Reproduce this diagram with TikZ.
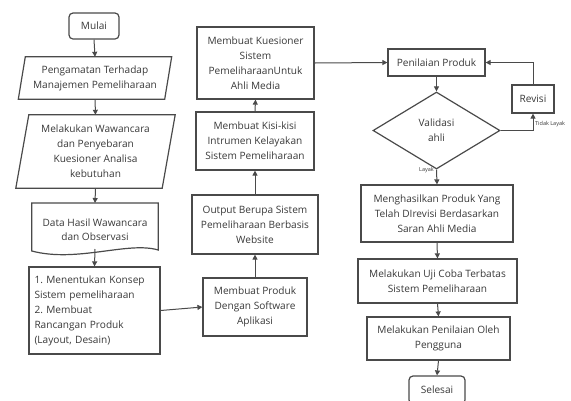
\documentclass[tikz,border=0pt]{standalone}
\usepackage{fontspec}
\setmainfont{Open Sans}
\usetikzlibrary{shapes.geometric,arrows.meta,calc}
\definecolor{ln}{HTML}{4A4A4A}
\definecolor{tx}{HTML}{383838}
\frenchspacing
\begin{document}
\begin{tikzpicture}[x=1pt,y=-1pt,
  every node/.style={font=\fontsize{10.1}{15}\selectfont,text=tx,align=center,inner sep=0pt},
  box/.style={draw=ln,line width=1.2pt,minimum width=#1},
  ghost/.style={draw=none,minimum width=#1},
  lbl/.style={font=\fontsize{5.5}{6}\selectfont,text=tx},
  arr/.style={draw=ln,line width=1pt,-{Triangle[length=5pt,width=5pt]}},
  shp/.style={draw=ln,line width=1.2pt}]
\useasboundingbox (0,0) rectangle (571,400);
% left column
\node[box=50pt,minimum height=26pt,rounded corners=4pt] (mulai) at (94,26) {Mulai};
\node[ghost=146pt,minimum height=42pt] (p1) at (95,78) {Pengamatan Terhadap\\Manajemen Pemeliharaan};
\draw[shp] ($(p1.south west)+(-3.5,0)$) -- ($(p1.south east)+(-3.5,0)$) -- ($(p1.north east)+(3.5,0)$) -- ($(p1.north west)+(3.5,0)$) -- cycle;
\node[ghost=146pt,minimum height=73pt] (p2) at (95.5,151.5) {Melakukan Wawancara\\dan Penyebaran\\Kuesioner Analisa\\kebutuhan};
\draw[shp] ($(p2.south west)+(-6.5,0)$) -- ($(p2.south east)+(-6.5,0)$) -- ($(p2.north east)+(6.5,0)$) -- ($(p2.north west)+(6.5,0)$) -- cycle;
\node[ghost=126pt,minimum height=48pt,text depth=0pt,anchor=north] (doc) at (95,203) {\raisebox{6pt}{\begin{tabular}{@{}c@{}}Data Hasil Wawancara\\[-1pt]dan Observasi\end{tabular}}};
\draw[shp] (doc.north west) -- (doc.north east) -- ($(doc.north east)+(0,47)$) .. controls ($(doc.north east)+(-30,38)$) and ($(doc.north west)+(45,60)$) .. ($(doc.north west)+(0,48)$) -- cycle;
\node[box=131pt,minimum height=87pt,align=left,text width=120pt] (b1) at (94.5,310.5) {1. Menentukan Konsep\\Sistem pemeliharaan\\2. Membuat\\Rancangan Produk\\(Layout, Desain)};
% middle column
\node[box=104pt,minimum height=58pt] (prod) at (255,307) {Membuat Produk\\Dengan Software\\Aplikasi};
\node[box=126pt,minimum height=59pt] (out) at (255,224.5) {Output Berupa Sistem\\Pemeliharaan Berbasis\\Website};
\node[box=118pt,minimum height=58pt] (kisi) at (255,141) {Membuat Kisi-kisi\\Intrumen Kelayakan\\Sistem Pemeliharaan};
\node[box=117pt,minimum height=72pt] (kues) at (255.5,63) {Membuat Kuesioner\\Sistem\\PemeliharaanUntuk\\Ahli Media};
% right column
\node[box=97pt,minimum height=27pt] (pen) at (436.5,62.5) {Penilaian Produk};
\node[draw=ln,line width=1.2pt,diamond,minimum width=127pt,minimum height=77pt,aspect=1.65] (dia) at (436.5,130.5) {Validasi\\ahli};
\node[box=42pt,minimum height=28pt] (rev) at (533,99) {Revisi};
\node[box=152pt,minimum height=57pt] (mh) at (437,213.5) {Menghasilkan Produk Yang\\Telah DIrevisi Berdasarkan\\Saran Ahli Media};
\node[box=159pt,minimum height=44pt] (uji) at (437.5,281) {Melakukan Uji Coba Terbatas\\Sistem Pemeliharaan};
\node[box=143pt,minimum height=43pt] (pol) at (438.5,338.5) {Melakukan Penilaian Oleh\\Pengguna};
\node[box=56pt,minimum height=28pt,rounded corners=4pt] (sel) at (437,390) {Selesai};
% connectors
\draw[arr] (mulai.south) -- (p1.north);
\draw[arr] (p1.south) -- (p2.north);
\draw[arr] (p2.south) -- (doc.north);
\draw[arr] ($(doc.north)+(0,46)$) -- (b1.north);
\draw[arr] (b1.east) -- (prod.west);
\draw[arr] (prod.north) -- (out.south);
\draw[arr] (out.north) -- (kisi.south);
\draw[arr] (kisi.north) -- (kues.south);
\draw[arr] (kues.east) -- (pen.west);
\draw[arr] (pen.south) -- (dia.north);
\draw[arr] (dia.east) -| (rev.south);
\draw[arr] (rev.north) |- (pen.east);
\draw[arr] (dia.south) -- (mh.north);
\draw[arr] (mh.south) -- (uji.north);
\draw[arr] (uji.south) -- (pol.north);
\draw[arr] (pol.south) -- (sel.north);
\node[lbl,anchor=west] (tl) at (535,124) {Tidak Layak};
\node[lbl,anchor=east] (ly) at (434,170) {Layak};
\end{tikzpicture}
\end{document}
